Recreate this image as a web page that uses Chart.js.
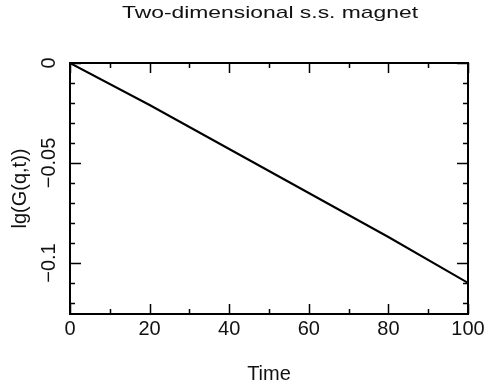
<!DOCTYPE html>
<html>
<head>
<meta charset="utf-8">
<script src="https://cdn.jsdelivr.net/npm/chart.js@4/dist/chart.umd.min.js"></script>
<style>
  html, body { margin: 0; padding: 0; background: #fff; }
  #wrap { width: 484px; height: 387px; }
</style>
</head>
<body>
<div id="wrap"><canvas id="c" width="484" height="387"></canvas></div>
<script>
// data
const times = [0, 20, 40, 60, 80, 100];
const lgG = [0, -0.021, -0.043, -0.065, -0.087, -0.11];

const xTicks = [0, 20, 40, 60, 80, 100];
const xMinor = [10, 30, 50, 70, 90];
const yTicks = [0, -0.05, -0.1];
const yTickLabels = ['0', '\u22120.05', '\u22120.1'];
const yMinor = [-0.01, -0.02, -0.03, -0.04, -0.06, -0.07, -0.08, -0.09, -0.11, -0.12];

const titleText = 'Two-dimensional s.s. magnet';
const xTitle = 'Time';
const yTitle = 'lg(G(q,t))';

const FONT = '"Liberation Sans", Arial, sans-serif';

// frame, inward ticks on all four sides, and labels
const framePlugin = {
    id: 'frame',
    afterDatasetsDraw(chart) {
        const ctx = chart.ctx;
        const a = chart.chartArea;
        const xs = chart.scales.x, ys = chart.scales.y;
        ctx.save();
        ctx.strokeStyle = '#000';
        ctx.lineWidth = 2;
        ctx.strokeRect(a.left, a.top, a.right - a.left, a.bottom - a.top);

        ctx.lineWidth = 1.5;
        ctx.beginPath();
        const xt = (v, len) => {
            const px = Math.round(xs.getPixelForValue(v)) + 0.5;
            ctx.moveTo(px, a.bottom); ctx.lineTo(px, a.bottom - len);
            ctx.moveTo(px, a.top); ctx.lineTo(px, a.top + len);
        };
        const yt = (v, len) => {
            const py = Math.round(ys.getPixelForValue(v)) + 0.5;
            ctx.moveTo(a.left, py); ctx.lineTo(a.left + len, py);
            ctx.moveTo(a.right, py); ctx.lineTo(a.right - len, py);
        };
        xTicks.forEach(v => xt(v, 10));
        xMinor.forEach(v => xt(v, 5));
        yTicks.forEach(v => yt(v, 11));
        yMinor.forEach(v => yt(v, 5));
        ctx.stroke();

        ctx.fillStyle = '#111';
        ctx.font = '20px ' + FONT;
        ctx.textAlign = 'center';
        ctx.textBaseline = 'middle';
        xTicks.forEach(v => {
            ctx.fillText(String(v), xs.getPixelForValue(v), a.bottom + 15);
        });
        ctx.fillText(xTitle, (a.left + a.right) / 2, 374);

        yTicks.forEach((v, i) => {
            ctx.save();
            ctx.translate(49, ys.getPixelForValue(v));
            ctx.rotate(-Math.PI / 2);
            ctx.fillText(yTickLabels[i], 0, 0);
            ctx.restore();
        });
        ctx.save();
        ctx.translate(20, (a.top + a.bottom) / 2);
        ctx.rotate(-Math.PI / 2);
        ctx.fillText(yTitle, 0, 0);
        ctx.restore();

        // title: wide stroke font in the original, so stretch it sideways
        ctx.font = '17px ' + FONT;
        const w = ctx.measureText(titleText).width;
        ctx.save();
        ctx.translate(270, 13);
        ctx.scale(296 / w, 1);
        ctx.fillText(titleText, 0, 0);
        ctx.restore();
        ctx.restore();
    }
};

new Chart(document.getElementById('c').getContext('2d'), {
    type: 'line',
    data: {
        labels: times,
        datasets: [{
            data: times.map((t, i) => ({ x: t, y: lgG[i] })),
            borderColor: '#000',
            borderWidth: 2,
            pointRadius: 0,
            tension: 0,
            fill: false
        }]
    },
    options: {
        responsive: false,
        animation: false,
        layout: { padding: { left: 70, right: 16, top: 63, bottom: 73 } },
        scales: {
            x: { type: 'linear', min: 0, max: 100, display: false },
            y: { type: 'linear', min: -0.1255, max: 0, display: false }
        },
        plugins: {
            legend: { display: false },
            tooltip: { enabled: false },
            title: { display: false }
        }
    },
    plugins: [framePlugin]
});
</script>
</body>
</html>
